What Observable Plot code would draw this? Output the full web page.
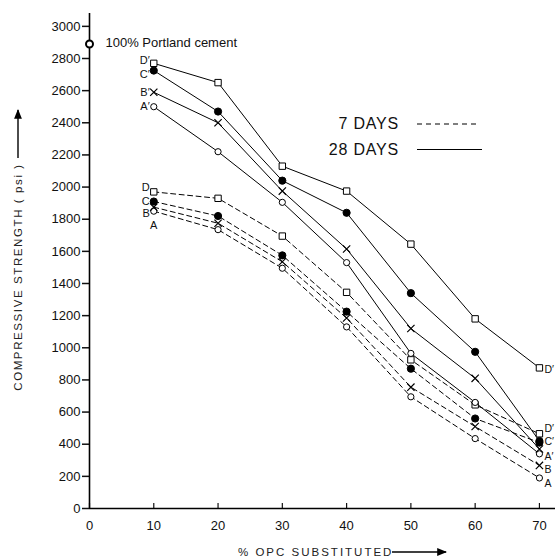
<!DOCTYPE html>
<html><head><meta charset="utf-8">
<script src="https://cdn.jsdelivr.net/npm/d3@7"></script>
<script src="https://cdn.jsdelivr.net/npm/@observablehq/plot@0.6"></script>
<style>
body{margin:0;background:#fff;}
#chart svg{font-family:"Liberation Sans",Arial,sans-serif;}
</style>
</head><body><div id="chart"></div>
<script>
// ---- data ----
const pctSubstituted = [10, 20, 30, 40, 50, 60, 70];

const days28_D = [2770, 2650, 2130, 1975, 1645, 1180, 875];
const days28_C = [2725, 2470, 2040, 1840, 1340, 975, 420];
const days28_B = [2590, 2400, 1975, 1615, 1120, 810, 370];
const days28_A = [2500, 2220, 1905, 1530, 965, 660, 340];

const days7_D = [1970, 1930, 1695, 1345, 925, 645, 465];
const days7_C = [1910, 1820, 1575, 1225, 870, 560, 410];
const days7_B = [1875, 1775, 1535, 1185, 755, 510, 268];
const days7_A = [1850, 1735, 1495, 1130, 695, 435, 190];

const portlandPct = [0];
const portlandStrength = [2890];
const portlandLabel = "100% Portland cement";

const yTicks = d3.range(0, 3001, 200);
const xTicks = d3.range(0, 71, 10);

const legendLabels = ["7 DAYS", "28 DAYS"];

// series description (label nudges are style, not data)
const series = [
  {key: "D′", age: 28, symbol: "square", fill: "white", values: days28_D, startLabel: "D′", startDy: -3, endLabel: "D′", endDy: 2},
  {key: "C′", age: 28, symbol: "circle", fill: "black", values: days28_C, startLabel: "C′", startDy: 4, endLabel: "C′", endDy: 1},
  {key: "B′", age: 28, symbol: "times", fill: "none", values: days28_B, startLabel: "B′", startDy: 0, endLabel: null},
  {key: "A′", age: 28, symbol: "circle", fill: "white", values: days28_A, startLabel: "A′", startDy: 0, endLabel: "A′", endDy: 3},
  {key: "D", age: 7, symbol: "square", fill: "white", values: days7_D, startLabel: "D", startDy: -4, endLabel: "D′", endDy: -5},
  {key: "C", age: 7, symbol: "circle", fill: "black", values: days7_C, startLabel: "C", startDy: 0, endLabel: null},
  {key: "B", age: 7, symbol: "times", fill: "none", values: days7_B, startLabel: "B", startDy: 6, endLabel: "B", endDy: 4},
  {key: "A", age: 7, symbol: "circle", fill: "white", values: days7_A, startLabel: "A", startDy: 14, endLabel: "A", endDy: 6}
];

const rows = series.flatMap(s => pctSubstituted.map((p, i) => ({
  pct: p, strength: s.values[i], key: s.key, age: s.age, symbol: s.symbol, fill: s.fill
})));
const rows28 = rows.filter(d => d.age === 28);
const rows7 = rows.filter(d => d.age === 7);

const startLabels = series.map(s => ({
  pct: pctSubstituted[0], strength: s.values[0], text: s.startLabel, key: s.key, dy: s.startDy
}));
const endLabels = series.filter(s => s.endLabel).map(s => ({
  pct: pctSubstituted[pctSubstituted.length - 1], strength: s.values[s.values.length - 1], text: s.endLabel, key: s.key, dy: s.endDy
}));
const portland = portlandPct.map((p, i) => ({pct: p, strength: portlandStrength[i], text: portlandLabel}));

const W = 558, H = 559;
const fontFam = "Liberation Sans, Arial, sans-serif";

const dotOpts = (data, extra) => Plot.dot(data, {x: "pct", y: "strength", stroke: "black", strokeWidth: 1, ...extra});
const labelMarks = (data, opts) => data.map(d => Plot.text([d], {x: "pct", y: "strength", text: "text", dy: d.dy, ...opts}));

const chart = Plot.plot({
  width: W,
  height: H,
  marginLeft: 89,
  marginRight: 3,
  marginTop: 13,
  marginBottom: 51,
  style: {fontFamily: fontFam, color: "#111", background: "white"},
  x: {domain: [0, 72.5]},
  y: {domain: [0, 3080]},
  marks: [
    Plot.axisY({ticks: yTicks, tickSize: 7, tickPadding: 2, fontSize: 13, tickFormat: "d", label: null, strokeWidth: 1.5}),
    Plot.axisX({ticks: xTicks, tickSize: 0, tickPadding: 12, fontSize: 13, tickFormat: "d", label: null}),
    Plot.axisX({ticks: xTicks, tickSize: 5, dy: -5, tickFormat: () => "", label: null, strokeWidth: 1.2}),
    Plot.ruleX([0], {stroke: "black", strokeWidth: 1.6}),
    Plot.ruleY([0], {stroke: "black", strokeWidth: 1.6}),
    Plot.line(rows28, {x: "pct", y: "strength", z: "key", stroke: "black", strokeWidth: 1}),
    Plot.line(rows7, {x: "pct", y: "strength", z: "key", stroke: "black", strokeWidth: 1, strokeDasharray: "5,3.5"}),
    dotOpts(rows.filter(d => d.symbol === "square"), {symbol: "square", r: 3.6, fill: "white"}),
    dotOpts(rows.filter(d => d.symbol === "circle" && d.fill === "black"), {symbol: "circle", r: 3.6, fill: "black"}),
    dotOpts(rows.filter(d => d.symbol === "circle" && d.fill === "white"), {symbol: "circle", r: 3.1, fill: "white"}),
    dotOpts(rows.filter(d => d.symbol === "times"), {symbol: "times", r: 3.4, fill: "none", strokeWidth: 1.2}),
    Plot.dot(portland, {x: "pct", y: "strength", r: 3.5, stroke: "black", strokeWidth: 2, fill: "white"}),
    Plot.text(portland, {x: "pct", y: "strength", text: "text", textAnchor: "start", dx: 16, dy: -1, fontSize: 13, letterSpacing: 0.8}),
    ...labelMarks(startLabels.filter(d => d.key !== "A"), {textAnchor: "end", dx: -4, fontSize: 11}),
    ...labelMarks(startLabels.filter(d => d.key === "A"), {textAnchor: "middle", fontSize: 11}),
    ...labelMarks(endLabels, {textAnchor: "start", dx: 5, fontSize: 10.5})
  ]
});

document.getElementById("chart").appendChild(chart);

// ---- titles & legend (non-data annotations) ----
const svg = d3.select(chart);
const defs = svg.append("defs");
defs.append("marker").attr("id", "ah").attr("viewBox", "0 0 10 10").attr("refX", 9).attr("refY", 5)
  .attr("markerWidth", 9).attr("markerHeight", 7).attr("orient", "auto-start-reverse")
  .append("path").attr("d", "M0,1 L10,5 L0,9 Z").attr("fill", "black");

// y-axis title (rotated) with arrow
svg.append("text")
  .attr("transform", "translate(22,277) rotate(-90)")
  .attr("text-anchor", "middle")
  .attr("font-size", 11.5)
  .attr("letter-spacing", 1.6)
  .attr("fill", "#222")
  .text("COMPRESSIVE STRENGTH ( psi )");
svg.append("line").attr("x1", 18).attr("x2", 18).attr("y1", 158).attr("y2", 110)
  .attr("stroke", "black").attr("stroke-width", 1.4).attr("marker-end", "url(#ah)");

// x-axis title with arrow
svg.append("text")
  .attr("x", 238).attr("y", 556)
  .attr("text-anchor", "start")
  .attr("font-size", 11.5)
  .attr("letter-spacing", 2)
  .attr("fill", "#222")
  .text("% OPC SUBSTITUTED");
svg.append("line").attr("x1", 392).attr("x2", 446).attr("y1", 552).attr("y2", 552)
  .attr("stroke", "black").attr("stroke-width", 1.4).attr("marker-end", "url(#ah)");

// legend
const legendDash = ["5,4", null];
legendLabels.forEach((lab, i) => {
  const y = 123 + i * 25.5;
  svg.append("text").attr("x", 399).attr("y", y + 6).attr("text-anchor", "end")
    .attr("font-size", 16).attr("letter-spacing", 0.8).attr("fill", "#111").text(lab);
  const ln = svg.append("line").attr("x1", 417).attr("x2", i === 0 ? 478 : 482)
    .attr("y1", y + 1).attr("y2", y + 1).attr("stroke", "black").attr("stroke-width", 1.1);
  if (legendDash[i]) ln.attr("stroke-dasharray", legendDash[i]);
});
</script>
</body></html>
